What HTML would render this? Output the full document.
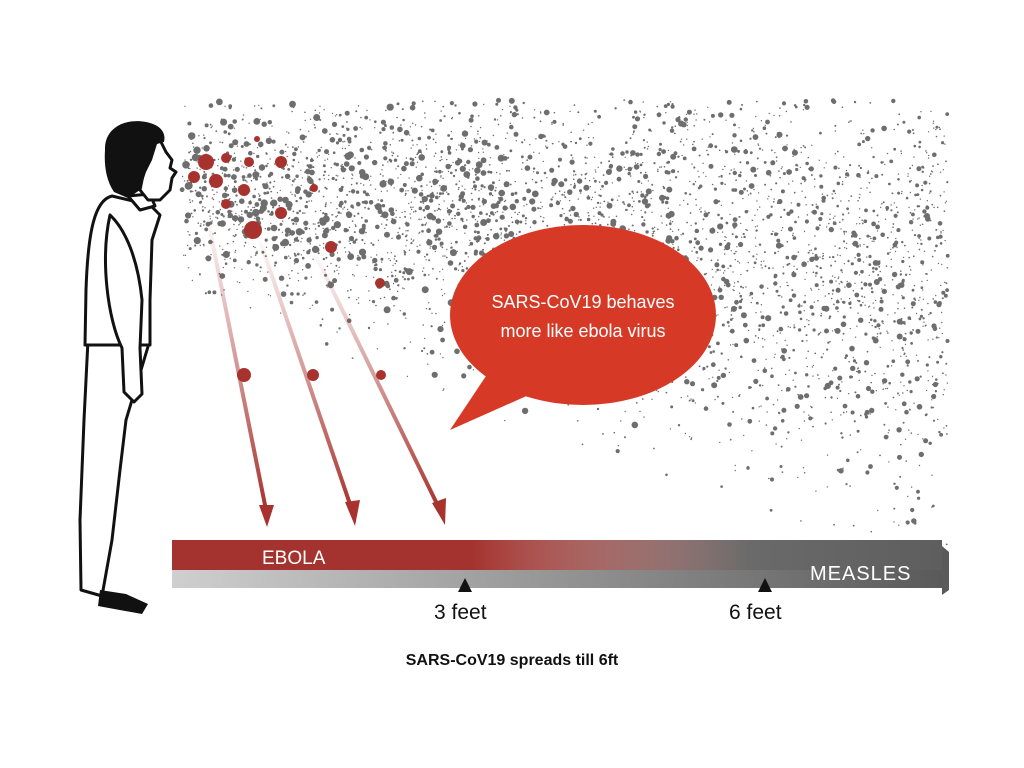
<!DOCTYPE html>
<html><head><meta charset="utf-8"><style>
html,body{margin:0;padding:0;background:#fff;}
#c{position:relative;width:1024px;height:768px;overflow:hidden;font-family:"Liberation Sans",sans-serif;}
</style></head><body><div id="c">
<svg id="s" width="1024" height="768" viewBox="0 0 1024 768" xmlns="http://www.w3.org/2000/svg">
<defs>
<linearGradient id="a1" x1="0" y1="0" x2="0" y2="1"><stop offset="0" stop-color="#a8322e" stop-opacity="0"/><stop offset="0.5" stop-color="#a8322e" stop-opacity="0.5"/><stop offset="1" stop-color="#a8322e"/></linearGradient>
<linearGradient id="redbar" x1="0" x2="1"><stop offset="0" stop-color="#a4332f"/><stop offset="0.39" stop-color="#a4332f"/><stop offset="0.75" stop-color="#a4332f" stop-opacity="0"/></linearGradient>
<linearGradient id="graybar" x1="0" x2="1"><stop offset="0.3" stop-color="#5a5a5a" stop-opacity="0"/><stop offset="0.75" stop-color="#6a6a6a"/><stop offset="1" stop-color="#5e5e5e"/></linearGradient>
<linearGradient id="lowbar" x1="0" x2="1"><stop offset="0" stop-color="#cfcfcf"/><stop offset="1" stop-color="#5a5a5a"/></linearGradient>
</defs>
<g id="dots"></g>
<g stroke="url(#a1)" stroke-width="4" fill="none">
<line x1="207" y1="215" x2="266" y2="510"/>
<line x1="258" y1="235" x2="352" y2="510"/>
<line x1="313" y1="250" x2="440" y2="510"/>
</g>
<g fill="#a8322e">
<polygon points="259,505 274,505 267,527"/>
<polygon points="345,502 360,500 355,526"/>
<polygon points="432,503 446,498 445,525"/>
<circle cx="244" cy="375" r="7"/><circle cx="313" cy="375" r="6"/><circle cx="381" cy="375" r="5"/>
<circle cx="380" cy="283" r="5"/><circle cx="331" cy="247" r="6"/>
</g>
<g stroke="#111" stroke-width="3" fill="#fff" stroke-linejoin="round" stroke-linecap="round">
<path d="M88,340 L84,420 L80,520 L81,590 L102,596 L112,540 L120,470 L126,420 L150,340 Z"/>
<path d="M112,196 C95,200 88,230 86,290 L85,345 L150,345 L150,300 L152,240 L160,215 L150,205 Z"/>
<path d="M110,215 C100,260 108,320 122,348 L124,392 L134,402 L142,394 L140,348 L142,300 C138,260 126,230 110,215 Z"/>
<path d="M128,196 L140,210 L155,206 L150,194 Z"/>
<path d="M150,140 L160,140 L166,152 L172,160 L170,168 L176,172 L172,178 L170,190 L160,200 L148,200 L140,190 Z"/>
</g>
<path d="M105,150 C104,128 125,118 146,122 C162,125 166,134 164,142 L157,144 L152,160 L146,172 L140,190 L128,198 L114,192 C106,180 104,165 105,150 Z" fill="#111"/>
<path d="M100,590 L98,606 L142,614 L148,604 L126,594 Z" fill="#111"/>
<g fill="#d63a27">
<ellipse cx="583" cy="315" rx="133" ry="90"/>
<polygon points="490,370 450,430 540,390"/>
</g>
<text x="583" y="308" font-size="18" fill="#fff" text-anchor="middle">SARS-CoV19 behaves</text>
<text x="583" y="337" font-size="18" fill="#fff" text-anchor="middle">more like ebola virus</text>
<rect x="172" y="570" width="770" height="18" fill="url(#lowbar)"/>
<rect x="172" y="540" width="770" height="30" fill="url(#graybar)"/>
<rect x="172" y="540" width="770" height="30" fill="url(#redbar)"/>
<polygon points="942,546 949,552 949,590 942,595" fill="#5a5a5a"/>
<text x="262" y="564" font-size="19" fill="#fff">EBOLA</text>
<text x="810" y="580" font-size="20" fill="#fff" letter-spacing="1">MEASLES</text>
<polygon points="458,592 472,592 465,578" fill="#111"/>
<polygon points="758,592 772,592 765,578" fill="#111"/>
<text x="434" y="619" font-size="21" fill="#111">3 feet</text>
<text x="729" y="619" font-size="21" fill="#111">6 feet</text>
<text x="512" y="665" font-size="16" font-weight="bold" fill="#111" text-anchor="middle">SARS-CoV19 spreads till 6ft</text>
</svg>
<script>
(function(){
var s=12345;function r(){s=(s*16807)%2147483647;return (s-1)/2147483646;}
var g=document.getElementById('dots'),h='';
for(var i=0;i<4200;i++){
var x=182+Math.pow(r(),0.9)*766;
var t=(x-182)/766;
var top=140-40*Math.min(1,t*3);
var bot=245+205*t;
var y=top+(bot-top)*(0.5+(r()+r()+r()-1.5)/1.5);
if(y<100||x>948)continue;
var rad=0.7+Math.pow(r(),4)*3.2*(1-0.3*t);
h+='<circle cx="'+x.toFixed(1)+'" cy="'+y.toFixed(1)+'" r="'+rad.toFixed(1)+'" fill="#6e6e6e"/>';
}
var red=[[206,162,8],[194,177,6],[226,158,5],[249,162,5],[281,162,6],[216,181,7],[244,190,6],[226,204,5],[281,213,6],[253,230,9],[314,188,4],[257,139,3]];
red.forEach(function(c){h+='<circle cx="'+c[0]+'" cy="'+c[1]+'" r="'+c[2]+'" fill="#a8322e"/>';});
g.innerHTML=h;
})();
</script>
</div></body></html>
